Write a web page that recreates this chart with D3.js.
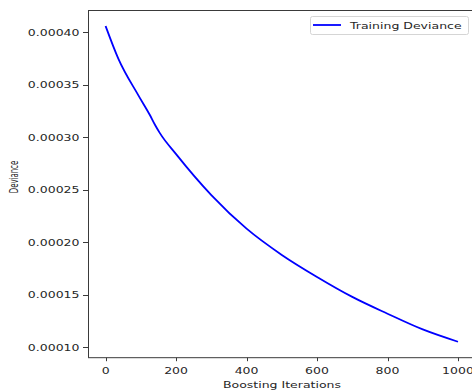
<!DOCTYPE html>
<html>
<head>
<meta charset="utf-8">
<script src="https://cdn.jsdelivr.net/npm/d3@7"></script>
<style>
  body { margin: 0; background: #fff; }
  svg { display: block; }
  text { font-family: "DejaVu Sans", sans-serif; fill: #262626; }
</style>
</head>
<body>
<div id="chart"></div>
<script>
// values
var iterations = [0, 36, 93, 126, 140, 154, 200, 300, 400, 500, 600, 700, 800, 900, 1000];
var deviance = [0.000406, 0.000375, 0.000340, 0.000321, 0.000312, 0.000304, 0.000284, 0.000245,
    0.000213, 0.000188, 0.000167, 0.000148, 0.000132, 0.000117, 0.0001053];
var xTicks = [0, 200, 400, 600, 800, 1000];
var yTicks = [0.0001, 0.00015, 0.0002, 0.00025, 0.0003, 0.00035, 0.0004];
var seriesName = "Training Deviance";

var w = 472, h = 390;
var padL = 88, padT = 10.5, padB = 357.7, padR = 475.6;

// text in the picture looks squashed, keep that look
var fs = 13.9, sx = 0.9, sy = 0.68;

var svg = d3.select("#chart").append("svg")
    .attr("width", w)
    .attr("height", h);

var x = d3.scaleLinear().domain([-50, 1050]).range([padL, padR]);
var y = d3.scaleLinear().domain([0.0000901, 0.0004208]).range([padB, padT]);

svg.append("clipPath").attr("id", "clip")
    .append("rect")
    .attr("x", padL).attr("y", padT)
    .attr("width", padR - padL).attr("height", padB - padT);

function label(g, tx, ty, str, anchor) {
    return g.append("text")
        .attr("transform", "translate(" + tx + "," + ty + ") scale(" + sx + "," + sy + ")")
        .attr("text-anchor", anchor)
        .attr("font-size", fs)
        .text(str);
}

//data line
var points = iterations.map(function(d, i) { return [d, deviance[i]]; });
var line = d3.line()
    .x(function(d) { return x(d[0]); })
    .y(function(d) { return y(d[1]); })
    .curve(d3.curveMonotoneX);

svg.append("path")
    .datum(points)
    .attr("clip-path", "url(#clip)")
    .attr("d", line)
    .attr("fill", "none")
    .attr("stroke", "#0000ff")
    .attr("stroke-width", 1.8)
    .attr("stroke-linejoin", "round");

//spines
var spine = svg.append("g").attr("stroke", "#3a3a3a").attr("stroke-width", 1);
spine.append("line").attr("x1", padL + 0.5).attr("x2", padL + 0.5).attr("y1", padT).attr("y2", padB);
spine.append("line").attr("x1", padL).attr("x2", w).attr("y1", padT).attr("y2", padT);
spine.append("line").attr("x1", padL).attr("x2", w).attr("y1", padB).attr("y2", padB);

//x ticks
var xg = svg.append("g");
xTicks.forEach(function(t) {
    var px = Math.round(x(t)) + 0.5;
    xg.append("line")
        .attr("x1", px).attr("x2", px)
        .attr("y1", padB).attr("y2", padB + 3.5)
        .attr("stroke", "#3a3a3a");
    label(xg, x(t), 373.5, d3.format("d")(t), "middle");
});

//y ticks
var yg = svg.append("g");
yTicks.forEach(function(t) {
    var py = Math.round(y(t)) + 0.5;
    yg.append("line")
        .attr("x1", padL - 5).attr("x2", padL)
        .attr("y1", py).attr("y2", py)
        .attr("stroke", "#3a3a3a");
    label(yg, 79.5, y(t) + 3.5, d3.format(".5f")(t), "end");
});

//axis titles
label(svg, 282, 387.5, "Boosting Iterations", "middle");
svg.append("text")
    .attr("transform", "translate(17.5,177) rotate(-90) scale(0.5,0.82)")
    .attr("text-anchor", "middle")
    .attr("font-size", fs)
    .text("Deviance");

//legend
var lg = svg.append("g");
lg.append("rect")
    .attr("x", 310.5).attr("y", 16.5)
    .attr("width", 158).attr("height", 18)
    .attr("rx", 2)
    .attr("fill", "#fff")
    .attr("fill-opacity", 0.8)
    .attr("stroke", "#d5d5d5");
lg.append("line")
    .attr("x1", 313).attr("x2", 341)
    .attr("y1", 25).attr("y2", 25)
    .attr("stroke", "#0000ff")
    .attr("stroke-width", 1.8);
label(lg, 350, 28.5, seriesName, "start");
</script>
</body>
</html>
